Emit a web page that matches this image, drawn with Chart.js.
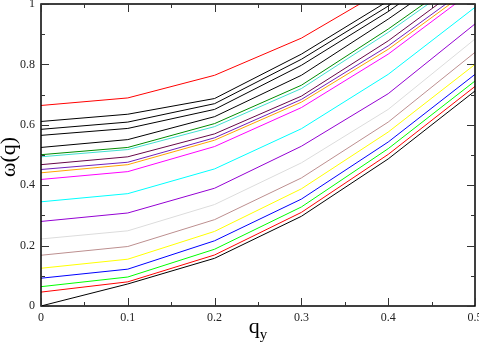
<!DOCTYPE html>
<html>
<head>
<meta charset="utf-8">
<script src="https://cdn.jsdelivr.net/npm/chart.js@4.4.1/dist/chart.umd.min.js"></script>
<style>
  html, body { margin: 0; padding: 0; background: #fff; }
  #omegaChart { display: block; }
</style>
</head>
<body>
<canvas id="omegaChart" width="479" height="346"></canvas>
<script>
// q_y sample points
const qy = [0, 0.1, 0.2, 0.3, 0.4, 0.5];

// omega(q) curves, bottom to top (values above 1 are clipped by the axis)
const series = [
    [0.000, 0.073, 0.158, 0.297, 0.487, 0.712],
    [0.046, 0.080, 0.169, 0.310, 0.502, 0.727],
    [0.064, 0.096, 0.188, 0.328, 0.521, 0.745],
    [0.092, 0.122, 0.216, 0.354, 0.543, 0.767],
    [0.125, 0.155, 0.247, 0.388, 0.576, 0.800],
    [0.168, 0.197, 0.286, 0.424, 0.609, 0.840],
    [0.222, 0.249, 0.336, 0.474, 0.651, 0.884],
    [0.280, 0.308, 0.390, 0.529, 0.703, 0.934],
    [0.345, 0.372, 0.454, 0.587, 0.767, 0.989],
    [0.419, 0.445, 0.528, 0.657, 0.834, 1.049],
    [0.441, 0.468, 0.549, 0.675, 0.850, 1.060],
    [0.452, 0.476, 0.557, 0.684, 0.861, 1.070],
    [0.468, 0.494, 0.570, 0.695, 0.878, 1.090],
    [0.494, 0.518, 0.594, 0.720, 0.906, 1.110],
    [0.501, 0.525, 0.604, 0.731, 0.917, 1.120],
    [0.525, 0.551, 0.627, 0.764, 0.950, 1.150],
    [0.565, 0.588, 0.651, 0.797, 0.975, 1.180],
    [0.585, 0.609, 0.670, 0.817, 0.993, 1.200],
    [0.611, 0.635, 0.687, 0.834, 1.010, 1.220],
    [0.664, 0.689, 0.764, 0.887, 1.055, 1.250]
];

// line colours (Grace-like palette)
const colors = [
    '#000000', '#ff0000', '#00ff00', '#0000ff', '#ffff00',
    '#bc8f8f', '#dcdcdc', '#9400d3', '#00ffff', '#ff00ff',
    '#ffa500', '#7221bc', '#670748', '#40e0d0', '#008b00',
    '#000000', '#000000', '#000000', '#000000', '#ff0000'
];

// axis ticks
const xMajor = [0, 0.1, 0.2, 0.3, 0.4, 0.5];
const xMinor = [0.05, 0.15, 0.25, 0.35, 0.45];
const yMajor = [0, 0.2, 0.4, 0.6, 0.8, 1];
const yMinor = [0.1, 0.3, 0.5, 0.7, 0.9];

const serif = "'Liberation Serif', 'DejaVu Serif', serif";

const datasets = series.map(function(vals, i) {
    return {
        data: vals.map(function(v, j) { return { x: qy[j], y: v }; }),
        borderColor: colors[i],
        borderWidth: 1,
        pointRadius: 0,
        tension: 0,
        fill: false
    };
});

// labels like 0, 0.1, 1 (no trailing zeros)
function plainLabel(value) {
    return String(Math.round(value * 10) / 10);
}

// frame, inward ticks and axis titles drawn like the original plot
const framePlugin = {
    id: 'frame',
    afterDraw: function(chart) {
        const ctx = chart.ctx;
        const a = chart.chartArea;
        const xs = chart.scales.x;
        const ys = chart.scales.y;
        ctx.save();
        ctx.strokeStyle = '#000';
        ctx.lineWidth = 1.5;
        ctx.strokeRect(a.left, a.top, a.right - a.left, a.bottom - a.top);

        ctx.lineWidth = 1;
        ctx.strokeStyle = '#333';
        function xTick(v, len) {
            const px = Math.round(xs.getPixelForValue(v)) + 0.5;
            ctx.beginPath();
            ctx.moveTo(px, a.bottom); ctx.lineTo(px, a.bottom - len);
            ctx.moveTo(px, a.top); ctx.lineTo(px, a.top + len);
            ctx.stroke();
        }
        function yTick(v, len) {
            const py = Math.round(ys.getPixelForValue(v)) + 0.5;
            ctx.beginPath();
            ctx.moveTo(a.left, py); ctx.lineTo(a.left + len, py);
            ctx.moveTo(a.right, py); ctx.lineTo(a.right - len, py);
            ctx.stroke();
        }
        xMajor.forEach(function(v) { xTick(v, 8); });
        xMinor.forEach(function(v) { xTick(v, 4); });
        yMajor.forEach(function(v) { yTick(v, 8); });
        yMinor.forEach(function(v) { yTick(v, 4); });

        // x title: q with subscript y
        ctx.fillStyle = '#000';
        ctx.textBaseline = 'alphabetic';
        ctx.textAlign = 'left';
        ctx.font = '22px ' + serif;
        const qw = ctx.measureText('q').width;
        ctx.font = '15px ' + serif;
        const yw = ctx.measureText('y').width;
        const cx = (a.left + a.right) / 2;
        const x0 = cx - (qw + yw) / 2;
        ctx.font = '22px ' + serif;
        ctx.fillText('q', x0, 333);
        ctx.font = '15px ' + serif;
        ctx.fillText('y', x0 + qw, 339);

        // y title
        ctx.translate(9, 157);
        ctx.rotate(-Math.PI / 2);
        ctx.textAlign = 'center';
        ctx.textBaseline = 'middle';
        ctx.font = '22px ' + serif;
        ctx.fillText('ω(q)', 0, 0);
        ctx.restore();
    }
};

new Chart(document.getElementById('omegaChart').getContext('2d'), {
    type: 'line',
    data: { datasets: datasets },
    options: {
        responsive: false,
        animation: false,
        layout: { padding: { top: 4, right: 4, left: 0, bottom: 0 } },
        plugins: { legend: { display: false }, tooltip: { enabled: false } },
        scales: {
            x: {
                type: 'linear',
                min: 0,
                max: 0.5,
                grid: { display: false, drawTicks: false },
                border: { display: false },
                ticks: {
                    stepSize: 0.1,
                    maxRotation: 0,
                    padding: 5,
                    color: '#222',
                    font: { family: serif, size: 12 },
                    callback: plainLabel
                },
                afterFit: function(scale) {
                    scale.height = 40;
                    scale.paddingLeft = 0;
                    scale.paddingRight = 0;
                }
            },
            y: {
                min: 0,
                max: 1,
                grid: { display: false, drawTicks: false },
                border: { display: false },
                ticks: {
                    stepSize: 0.2,
                    padding: 6,
                    color: '#222',
                    font: { family: serif, size: 12 },
                    callback: plainLabel
                },
                afterFit: function(scale) {
                    scale.width = 41;
                    scale.paddingTop = 0;
                    scale.paddingBottom = 0;
                }
            }
        }
    },
    plugins: [framePlugin]
});
</script>
</body>
</html>
